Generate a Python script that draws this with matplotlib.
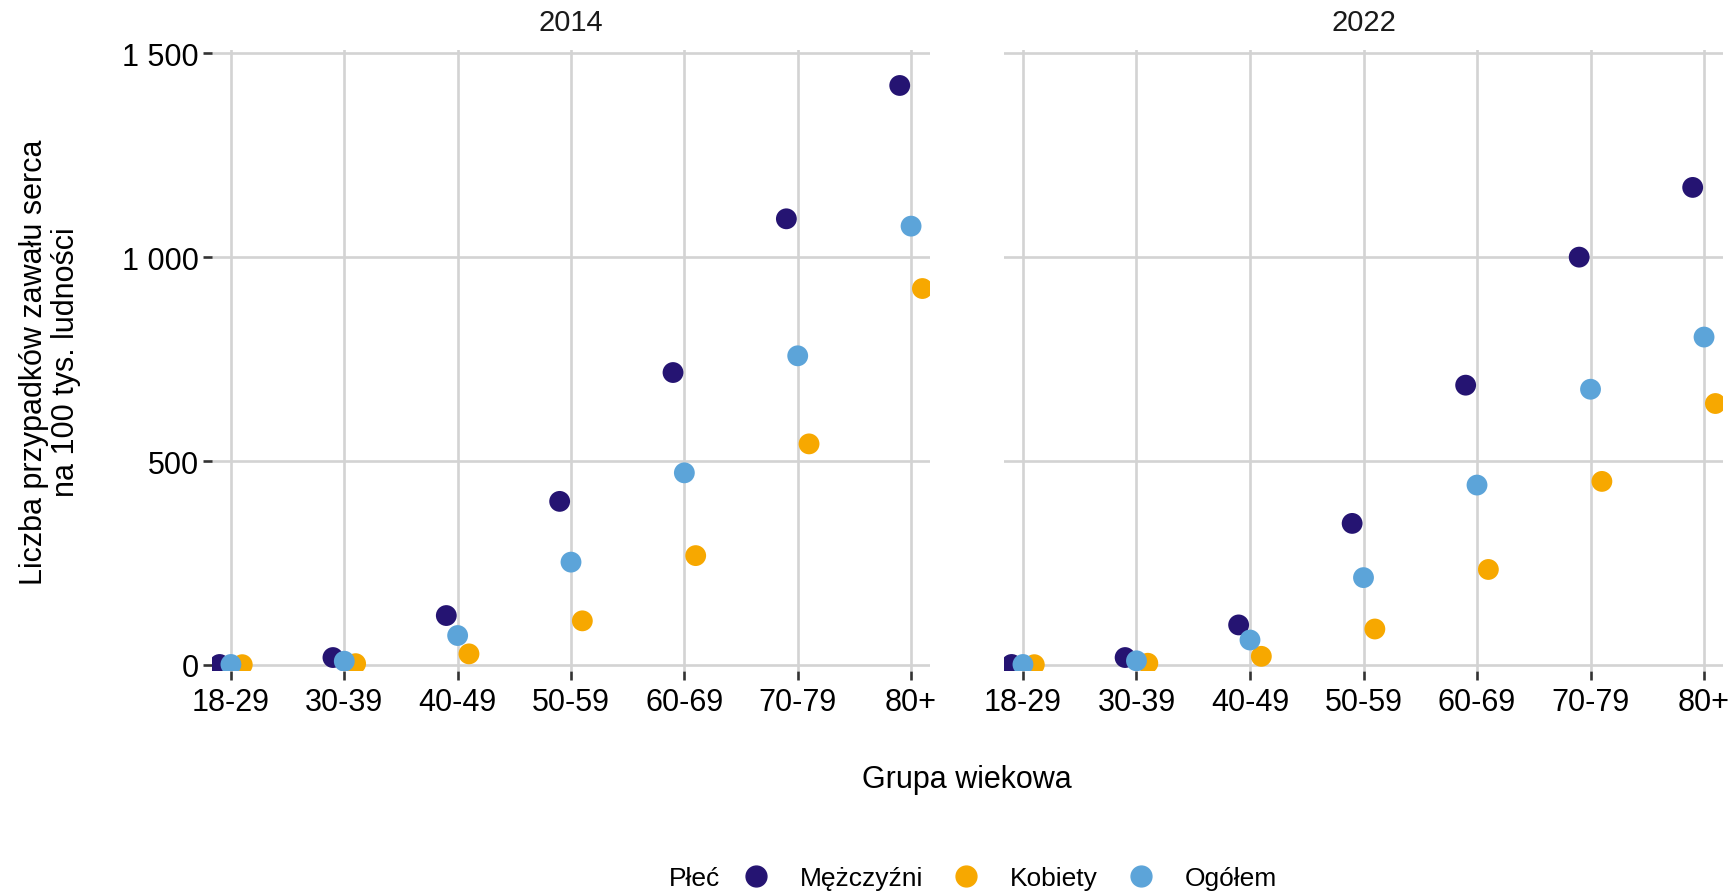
import numpy as np
import matplotlib.pyplot as plt
from matplotlib.lines import Line2D
from matplotlib.ticker import FuncFormatter

plt.rcParams['font.family'] = ['Liberation Sans', 'DejaVu Sans']

age_groups = ["18-29", "30-39", "40-49", "50-59", "60-69", "70-79", "80+"]
years = ["2014", "2022"]

# zawały serca na 100 tys. ludności
men_2014 = [1, 18, 121, 401, 717, 1094, 1421]
women_2014 = [0.5, 3, 27, 108, 268, 542, 923]
total_2014 = [1, 9, 72, 252, 471, 758, 1076]

men_2022 = [1, 18, 98, 347, 686, 1000, 1171]
women_2022 = [0.5, 4, 21, 88, 234, 450, 641]
total_2022 = [1, 10, 61, 214, 441, 676, 804]

series_names = ["Mężczyźni", "Kobiety", "Ogółem"]
series_colors = ["#251472", "#F7A800", "#5CA4D9"]
dodge = [-0.1, 0.1, 0.0]

W, H = 1734, 895
fig = plt.figure(figsize=(W / 100, H / 100), dpi=100)

def px_axes(l, t, r, b):
    return fig.add_axes([l / W, 1 - b / H, (r - l) / W, (b - t) / H])

ax1 = px_axes(212, 51, 930, 672)
ax2 = px_axes(1004, 51, 1723, 672)

panel_data = {
    "2014": [men_2014, women_2014, total_2014],
    "2022": [men_2022, women_2022, total_2022],
}

fmt = FuncFormatter(lambda v, p: f"{v:,.0f}".replace(",", " "))
x = np.arange(len(age_groups))

for ax, year in zip([ax1, ax2], years):
    for vals, name, col, off in zip(panel_data[year], series_names, series_colors, dodge):
        ax.scatter(x + off, vals, s=225, color=col, edgecolors='none',
                   zorder=3, label=name)
    ax.set_xlim(-0.167, 6.167)
    ax.set_ylim(-15, 1508)
    ax.set_xticks(x, age_groups)
    ax.set_yticks([0, 500, 1000, 1500])
    ax.yaxis.set_major_formatter(fmt)
    ax.grid(color="#D3D3D3", linewidth=1.9)
    ax.set_axisbelow(True)
    for s in ax.spines.values():
        s.set_visible(False)
    ax.tick_params(length=6.5, width=1.9, color="#333333", labelsize=22,
                   labelcolor="black")
    ax.tick_params(axis='x', pad=5)
    ax.tick_params(axis='y', pad=3)
    ax.text(0.5, 1.045, year, transform=ax.transAxes, ha='center',
            va='center', fontsize=21, color="#1A1A1A")

ax2.tick_params(axis='y', left=False, labelleft=False)

fig.text(967 / W, 1 - 780 / H, "Grupa wiekowa", ha='center', va='center',
         fontsize=22)
fig.text(50 / W, 1 - 362 / H, "Liczba przypadków zawału serca\nna 100 tys. ludności",
         rotation=90, ha='center', va='center', multialignment='center',
         fontsize=22, linespacing=1.1)

handles = [Line2D([], [], marker='o', linestyle='none', markersize=15,
                  color=c) for c in series_colors]
fig.legend(handles, series_names, ncol=3, loc='center',
           bbox_to_anchor=(1010 / W, 1 - 879 / H), frameon=False, fontsize=19,
           handlelength=1.0, handletextpad=1.15, columnspacing=1.15)
fig.text(669 / W, 1 - 879 / H, "Płeć", ha='left', va='center', fontsize=19)

fig.savefig("out.png", dpi=100)
